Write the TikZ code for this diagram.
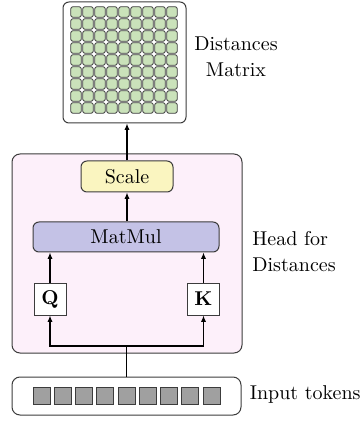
\documentclass[tikz,border=0pt]{standalone}
\usetikzlibrary{arrows.meta}
\definecolor{edgegray}{RGB}{60,60,60}
\definecolor{headpink}{RGB}{253,240,250}
\definecolor{scaleyellow}{RGB}{250,245,192}
\definecolor{matmulblue}{RGB}{196,194,230}
\definecolor{cellgreen}{RGB}{202,226,186}
\definecolor{tokengray}{RGB}{160,160,160}
\tikzset{
  box/.style={draw=edgegray, line width=0.5pt, rounded corners=3pt, inner sep=0pt},
  plainbox/.style={draw=edgegray, line width=0.5pt, fill=white, inner sep=0pt, minimum width=16pt, minimum height=16pt, font=\bfseries},
  cell/.style={draw=edgegray, line width=0.4pt, fill=cellgreen, rounded corners=1pt, minimum size=5.2pt, inner sep=0pt},
  token/.style={draw=edgegray, line width=0.4pt, fill=tokengray, minimum size=8.6pt, inner sep=0pt},
  arr/.style={-{Latex[length=3.2pt,width=2.6pt]}, line width=0.6pt, draw=black},
  link/.style={line width=0.6pt, draw=black},
  lbl/.style={font=\normalsize, inner sep=0pt}
}
\begin{document}
\begin{tikzpicture}[x=0.5pt,y=-0.5pt]
  \useasboundingbox (0,0) rectangle (359,421);

  % distances matrix
  \node[box, fill=white, minimum width=61.5pt, minimum height=60.5pt] (mat) at (124.5,62.5) {};
  \foreach \i in {0,...,8}{
    \foreach \j in {0,...,8}{
      \node[cell] (c\i\j) at ({76+12*\i},{12+12*\j}) {};
    }
  }
  \node[lbl, align=center] (matlbl) at (236,57) {Distances\\[1pt]Matrix};

  % attention head
  \node[box, fill=headpink, rounded corners=4pt, minimum width=115pt, minimum height=99.5pt] (head) at (127,253.5) {};
  \node[box, fill=scaleyellow, minimum width=46pt, minimum height=15.5pt] (scale) at (127,176.5) {Scale};
  \node[box, fill=matmulblue, minimum width=93pt, minimum height=15pt] (matmul) at (126,237) {MatMul};
  \node[plainbox] (q) at (50,299) {Q};
  \node[plainbox] (k) at (203.5,299) {K};
  \node[lbl, align=left, anchor=west] (headlbl) at (252,252) {Head for\\[1pt]Distances};

  % input tokens
  \node[box, fill=white, rounded corners=4pt, minimum width=114.5pt, minimum height=19pt] (inp) at (126.5,396) {};
  \foreach \i in {0,...,8}{
    \node[token] (t\i) at ({41.5+21.25*\i},396) {};
  }
  \node[lbl, anchor=west] (inplbl) at (249.5,394) {Input tokens};

  % connectors
  \coordinate (split) at (126.5,346);
  \draw[link] (inp.north) -- (split);
  \draw[arr] (split) -| (q.south);
  \draw[arr] (split) -| (k.south);
  \draw[arr] (q.north) -- (q.north |- matmul.south);
  \draw[arr] (k.north) -- (k.north |- matmul.south);
  \draw[arr] (scale.south |- matmul.north) -- (scale.south);
  \draw[arr] (scale.north) -- (scale.north |- mat.south);
\end{tikzpicture}
\end{document}
